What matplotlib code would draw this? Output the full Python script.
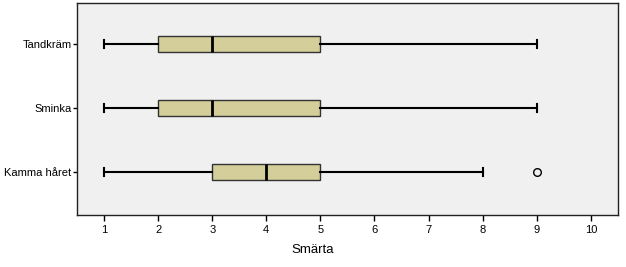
import matplotlib

matplotlib.use("Agg")
import matplotlib.pyplot as plt

plt.rcParams["font.family"] = ["Liberation Sans", "DejaVu Sans"]

# Boxplot summaries (top to bottom in the picture)
categories = ["Kamma håret", "Sminka", "Tandkräm"]
whisker_low = [1, 1, 1]
q1 = [3, 2, 2]
median = [4, 3, 3]
q3 = [5, 5, 5]
whisker_high = [8, 9, 9]
outliers = [[9], [], []]
x_ticks = [1, 2, 3, 4, 5, 6, 7, 8, 9, 10]

stats = []
for i, name in enumerate(categories):
    stats.append({
        "label": name,
        "whislo": whisker_low[i],
        "q1": q1[i],
        "med": median[i],
        "q3": q3[i],
        "whishi": whisker_high[i],
        "fliers": outliers[i],
    })

fig = plt.figure(figsize=(6.26, 2.67), dpi=100)
ax = fig.add_axes([0.123, 0.195, 0.864, 0.794])
ax.set_facecolor("#f0f0f0")

ax.bxp(
    stats,
    positions=[1, 2, 3],
    widths=0.25,
    vert=False,
    patch_artist=True,
    capwidths=0.13,
    boxprops=dict(facecolor="#d3ce9a", edgecolor="#333333", linewidth=1.0),
    medianprops=dict(color="black", linewidth=2.0),
    whiskerprops=dict(color="black", linewidth=1.5),
    capprops=dict(color="black", linewidth=1.5),
    flierprops=dict(marker="o", markerfacecolor="none", markeredgecolor="black",
                    markersize=5.5, markeredgewidth=1.0),
)

ax.set_xlim(0.5, 10.5)
ax.set_ylim(0.33, 3.64)
ax.set_xticks(x_ticks)
ax.set_xticklabels([str(t) for t in x_ticks])
ax.set_yticks([1, 2, 3])
ax.set_yticklabels(categories)
ax.tick_params(axis="x", direction="out", length=4, width=1, labelsize=8, pad=3)
ax.tick_params(axis="y", direction="out", length=3, width=1, labelsize=8, pad=1)
for s in ax.spines.values():
    s.set_color("#222222")
    s.set_linewidth(1.0)

# axis title is centred on the whole figure in the original
fig.text(0.5, 0.062, "Smärta", fontsize=9.5, ha="center", va="center")

fig.savefig("out.png", dpi=100, facecolor="white")
